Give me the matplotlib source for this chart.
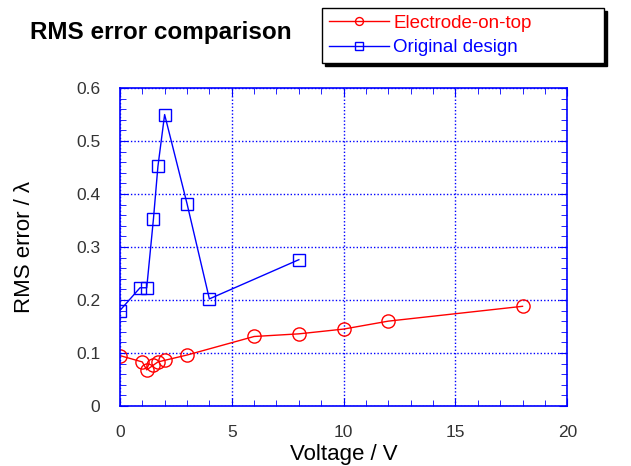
import matplotlib.pyplot as plt
from matplotlib.ticker import MultipleLocator

plt.rcParams['font.family'] = ['Liberation Sans', 'DejaVu Sans']

# Electrode-on-top
v_top = [0, 1, 1.2, 1.5, 1.7, 2, 3, 6, 8, 10, 12, 18]
rms_top = [0.095, 0.083, 0.068, 0.077, 0.083, 0.086, 0.096, 0.131, 0.136, 0.145, 0.160, 0.188]

# Original design
v_orig = [0, 0.9, 1.2, 1.5, 1.7, 2, 3, 4, 8]
rms_orig = [0.18, 0.223, 0.223, 0.353, 0.452, 0.55, 0.382, 0.202, 0.276]

y_ticks = [0, 0.1, 0.2, 0.3, 0.4, 0.5, 0.6]
y_tick_labels = ['0', '0.1', '0.2', '0.3', '0.4', '0.5', '0.6']

fig = plt.figure(figsize=(6.31, 4.66), dpi=100)
ax = fig.add_axes([0.190, 0.129, 0.709, 0.682])

ax.plot(v_top, rms_top, color='red', lw=1, marker='o', ms=9.5,
        mfc='none', mec='red', mew=1, label='Electrode-on-top')
ax.plot(v_orig, rms_orig, color='blue', lw=1, marker='s', ms=9,
        mfc='none', mec='blue', mew=1, label='Original design')

ax.set_xlim(0, 20)
ax.set_ylim(0, 0.6)
ax.xaxis.set_major_locator(MultipleLocator(5))
ax.xaxis.set_minor_locator(MultipleLocator(1))
ax.set_yticks(y_ticks)
ax.set_yticklabels(y_tick_labels)
ax.yaxis.set_minor_locator(MultipleLocator(0.02))

for s in ax.spines.values():
    s.set_color('blue')
    s.set_linewidth(1.2)
ax.tick_params(which='both', direction='in', top=True, right=True,
               color='blue', labelcolor='#333333', labelsize=12.5)
ax.tick_params(which='major', length=6, pad=14)
ax.tick_params(which='minor', length=4)
ax.grid(True, which='major', color='blue', linestyle=(0, (1, 1.5)), lw=1)

ax.set_xlabel('Voltage / V', fontsize=16)
ax.set_ylabel('RMS error / λ', fontsize=16)
ax.xaxis.set_label_coords(0.5, -0.12)
ax.yaxis.set_label_coords(-0.19, 0.5)

fig.text(0.048, 0.93, 'RMS error comparison', fontsize=17.5, fontweight='bold',
         va='center', ha='left')

leg = fig.legend(loc='upper left', mode='expand',
                 bbox_to_anchor=(322 / 631, 1 - 64 / 466, 282 / 631, 56 / 466),
                 fancybox=False, shadow={'color': 'black', 'alpha': 1},
                 edgecolor='black', labelcolor='linecolor', fontsize=13.5,
                 handlelength=3.2, borderpad=0.35, labelspacing=0.4,
                 handletextpad=0.25, borderaxespad=0, markerscale=0.6)
leg.get_frame().set_linewidth(1)

fig.savefig('out.png', dpi=100)
